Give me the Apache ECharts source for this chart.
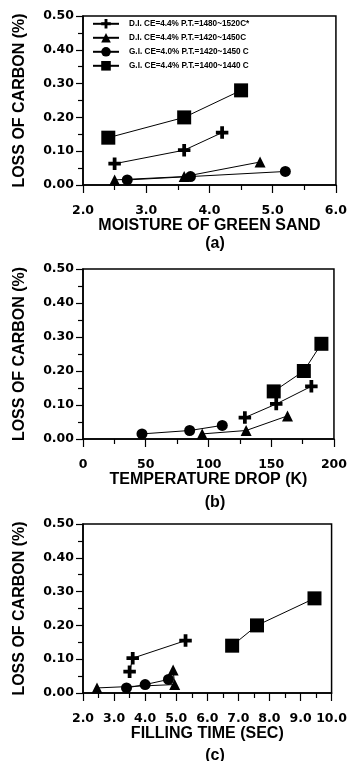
<!DOCTYPE html>
<html>
<head>
<meta charset="utf-8">
<script src="https://cdn.jsdelivr.net/npm/echarts@6/dist/echarts.min.js"></script>
<style>
html,body{margin:0;padding:0;background:#fff;}
#chart{width:350px;height:761px;}
</style>
</head>
<body>
<div id="chart"></div>
<script>
// Legend / series names
var seriesNames = ['D.I. CE=4.4% P.T.=1480~1520C*', 'D.I. CE=4.4% P.T.=1420~1450C', 'G.I. CE=4.0% P.T.=1420~1450 C', 'G.I. CE=4.4% P.T.=1400~1440 C'];

// Loss of carbon (%) for each series (shared by all three panels)
var lossDI1480 = [0.063, 0.103, 0.155];
var lossDI1420 = [0.015, 0.025, 0.068];
var lossGI40 = [0.015, 0.025, 0.040];
var lossGI44 = [0.140, 0.200, 0.280];

// (a) moisture of green sand
var moistDI1480 = [2.5, 3.6, 4.2];
var moistDI1420 = [2.5, 3.6, 4.8];
var moistGI40 = [2.7, 3.7, 5.2];
var moistGI44 = [2.4, 3.6, 4.5];

// (b) temperature drop (K)
var tempDI1480 = [129, 154, 182];
var tempDI1420 = [95, 130, 163];
var tempGI40 = [47, 85, 111];
var tempGI44 = [152, 176, 190];

// (c) filling time (sec)
var fillDI1480 = [3.5, 3.6, 5.3];
var fillDI1420 = [2.45, 4.95, 4.9];
var fillGI40 = [3.4, 4.0, 4.75];
var fillGI44 = [6.8, 7.6, 9.45];

// Axis tick values
var yTicks = [0, 0.1, 0.2, 0.3, 0.4, 0.5];
var xTitles = ['MOISTURE OF GREEN SAND', 'TEMPERATURE DROP (K)', 'FILLING TIME (SEC)'];
var panelLabels = ['(a)', '(b)', '(c)'];
var yTitle = 'LOSS OF CARBON (%)';

var FONT = 'Liberation Sans, Arial, sans-serif';
var TICKFONT = 'DejaVu Sans, sans-serif';
var plusPath = 'path://M3.5,0H6.5V3.5H10V6.5H6.5V10H3.5V6.5H0V3.5H3.5Z';
var symbols = [plusPath, 'triangle', 'circle', 'rect'];
var symbolSizes = [12.5, 11, 11, 14];

function zip(xs, ys) { return xs.map(function (x, i) { return [x, ys[i]]; }); }

var losses = [lossDI1480, lossDI1420, lossGI40, lossGI44];
var panelX = [
  [moistDI1480, moistDI1420, moistGI40, moistGI44],
  [tempDI1480, tempDI1420, tempGI40, tempGI44],
  [fillDI1480, fillDI1420, fillGI40, fillGI44]
];

var grids = [
  {left: 83, top: 16, width: 254, height: 169},
  {left: 83, top: 269, width: 254, height: 170},
  {left: 83, top: 524, width: 254, height: 169}
];
var xRanges = [
  {min: 2, max: 6, interval: 1, dec: 1},
  {min: 0, max: 200, interval: 50, dec: 0},
  {min: 2, max: 10, interval: 1, dec: 1}
];

var grid = [], xAxis = [], yAxis = [], series = [], title = [];
grids.forEach(function (g, p) {
  grid.push(Object.assign({show: true, borderColor: '#000', borderWidth: 1.5, backgroundColor: 'transparent'}, g));
  var r = xRanges[p];
  xAxis.push({
    type: 'value', gridIndex: p, min: r.min, max: r.max, interval: r.interval,
    name: xTitles[p], nameLocation: 'middle', nameGap: 32,
    nameTextStyle: {fontFamily: FONT, fontWeight: 'bold', fontSize: 16, color: '#000'},
    axisLine: {show: true, onZero: false, lineStyle: {color: '#000', width: 1.5}},
    axisTick: {show: true, inside: false, length: 8, lineStyle: {color: '#000', width: 1.2}},
    minorTick: {show: true, splitNumber: 2, length: 5, lineStyle: {color: '#000', width: 1.2}},
    splitLine: {show: false},
    axisLabel: {margin: 19, fontFamily: TICKFONT, fontWeight: 'bold', fontSize: 12.5, color: '#000',
      formatter: function (v) { return v.toFixed(r.dec); }}
  });
  yAxis.push({
    type: 'value', gridIndex: p, min: yTicks[0], max: yTicks[yTicks.length - 1], interval: yTicks[1] - yTicks[0],
    name: yTitle, nameLocation: 'middle', nameGap: 55, nameRotate: 90,
    nameTextStyle: {fontFamily: FONT, fontWeight: 'bold', fontSize: 16, color: '#000'},
    axisLine: {show: true, onZero: false, lineStyle: {color: '#000', width: 1.5}},
    axisTick: {show: true, inside: false, length: 7, lineStyle: {color: '#000', width: 1.2}},
    minorTick: {show: true, splitNumber: 2, length: 5, lineStyle: {color: '#000', width: 1.2}},
    splitLine: {show: false},
    axisLabel: {margin: 9, fontFamily: TICKFONT, fontWeight: 'bold', fontSize: 12.5, color: '#000',
      formatter: function (v) { return v.toFixed(2); }}
  });
  title.push({text: panelLabels[p], left: 210, textAlign: 'center', top: [231, 490, 743][p],
    textStyle: {fontFamily: FONT, fontWeight: 'bold', fontSize: 16, color: '#000'}});
  for (var s = 0; s < 4; s++) {
    series.push({
      name: seriesNames[s], type: 'line', xAxisIndex: p, yAxisIndex: p,
      data: zip(panelX[p][s], losses[s]),
      symbol: symbols[s], symbolSize: symbolSizes[s], showSymbol: true,
      lineStyle: {color: '#000', width: 1},
      itemStyle: {color: '#000', borderWidth: 0},
      z: 3
    });
  }
});

var chart = echarts.init(document.getElementById('chart'), null, {renderer: 'canvas'});
chart.setOption({
  animation: false,
  backgroundColor: '#fff',
  title: title,
  legend: {
    orient: 'vertical', left: 92, top: 19, padding: 0,
    itemWidth: 26, itemHeight: 12, itemGap: 4.4,
    data: seriesNames,
    textStyle: {fontFamily: FONT, fontWeight: 'bold', fontSize: 8.2, color: '#000', padding: [0, 0, 0, 5]}
  },
  grid: grid, xAxis: xAxis, yAxis: yAxis, series: series
});
</script>
</body>
</html>
